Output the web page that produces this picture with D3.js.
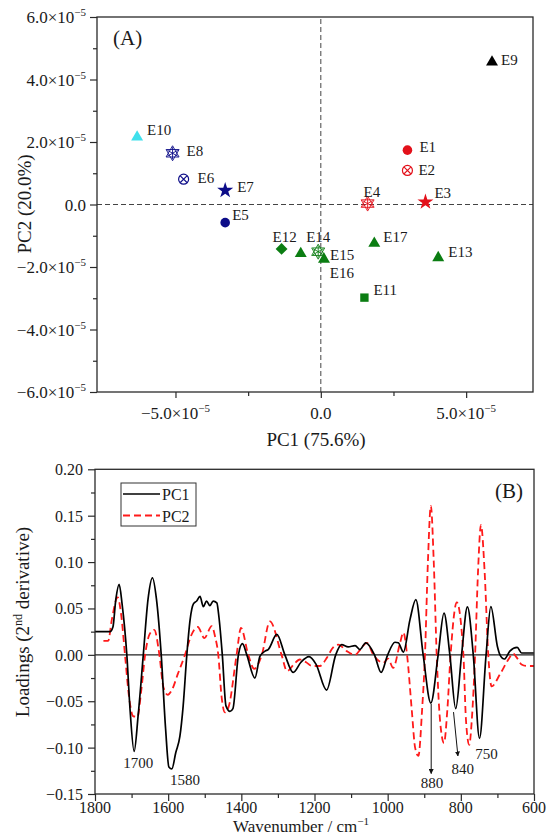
<!DOCTYPE html>
<html><head><meta charset="utf-8">
<script src="https://cdn.jsdelivr.net/npm/d3@7"></script>
<style>
body{margin:0;background:#fff}
svg text{font-family:"Liberation Serif","Times New Roman",serif;fill:#1a1a1a}
</style>
</head><body>
<svg id="c" width="550" height="838"></svg>
<script>
// ---------------- DATA ----------------
// Panel A: PCA scores
const sampleNames = ["E1","E2","E3","E4","E5","E6","E7","E8","E9","E10","E11","E12","E13","E14","E15","E16","E17"];
const pc1Scores = [2.98e-5,2.98e-5,3.60e-5,1.61e-5,-3.29e-5,-4.72e-5,-3.29e-5,-5.10e-5,5.89e-5,-6.32e-5,1.50e-5,-1.35e-5,4.04e-5,-0.09e-5,0.11e-5,-0.69e-5,1.84e-5];
const pc2Scores = [1.74e-5,1.09e-5,0.08e-5,0.03e-5,-0.58e-5,0.81e-5,0.45e-5,1.64e-5,4.59e-5,2.19e-5,-2.98e-5,-1.42e-5,-1.67e-5,-1.51e-5,-1.72e-5,-1.54e-5,-1.21e-5];
const sampleGroups = ["red","red","red","red","navy","navy","navy","navy","black","cyan","green","green","green","green","green","green","green"];
const sampleShapes = ["circle","circlex","star","hexagram","circle","circlex","star","hexagram","triangle","triangle","square","diamond","triangle","hexagram","triangle","triangle","triangle"];
const xTicksA = [-5e-5, 0, 5e-5];
const xMinorTicksA = [-2.5e-5, 2.5e-5];
const yTicksA = [-6e-5,-4e-5,-2e-5,0,2e-5,4e-5,6e-5];
const yMinorTicksA = [-5e-5,-3e-5,-1e-5,1e-5,3e-5,5e-5];

// Panel B: loadings (wavenumber, loading)
const pc1Loadings = [[1800,0.025],[1759,0.025],[1751,0.030],[1743,0.060],[1734,0.076],[1726,0.055],[1713,0.0],[1704,-0.060],[1693,-0.104],[1682,-0.065],[1668,0.0],[1655,0.060],[1643,0.083],[1632,0.060],[1619,0.0],[1607,-0.080],[1598,-0.121],[1590,-0.123],[1579,-0.105],[1568,-0.088],[1559,-0.055],[1549,0.0],[1540,0.038],[1531,0.055],[1522,0.058],[1513,0.063],[1504,0.052],[1495,0.058],[1486,0.053],[1477,0.058],[1467,0.056],[1461,0.040],[1452,0.0],[1442,-0.055],[1431,-0.061],[1423,-0.058],[1408,0.0],[1397,0.012],[1385,0.0],[1363,-0.025],[1349,-0.0015],[1335,0.004],[1326,0.006],[1303,0.022],[1281,0.0],[1258,-0.019],[1237,-0.008],[1215,-0.002],[1196,-0.010],[1167,-0.038],[1142,0.0],[1126,0.011],[1108,0.0086],[1089,0.010],[1076,0.0057],[1060,0.013],[1036,0.0],[1018,-0.019],[1000,0.0],[980,0.0136],[971,0.013],[957,0.003],[939,0.038],[923,0.0595],[903,0.0],[882,-0.052],[862,0.0],[846,0.045],[830,0.0],[814,-0.058],[798,0.0],[782,0.0516],[766,0.0],[749,-0.090],[731,0.0],[718,0.052],[700,0.009],[693,0.0],[681,-0.0045],[666,0.004],[646,0.008],[634,0.002],[620,0.002],[600,0.002]];
const pc2Loadings = [[1777,0.015],[1764,0.015],[1754,0.038],[1738,0.062],[1729,0.045],[1718,0.0],[1707,-0.045],[1696,-0.066],[1684,-0.067],[1674,-0.040],[1663,0.0],[1651,0.022],[1638,0.027],[1624,0.0],[1613,-0.035],[1601,-0.043],[1590,-0.038],[1573,-0.020],[1554,0.0],[1538,0.020],[1519,0.030],[1501,0.018],[1481,0.031],[1472,0.020],[1463,0.0],[1454,-0.045],[1445,-0.062],[1434,-0.055],[1413,0.0],[1401,0.029],[1381,0.0],[1365,-0.015],[1344,0.0],[1322,0.036],[1290,0.0],[1275,-0.0176],[1256,-0.010],[1240,-0.005],[1223,-0.008],[1207,-0.012],[1185,-0.012],[1166,-0.003],[1149,0.008],[1135,0.011],[1112,0.004],[1089,0.0],[1076,0.005],[1057,0.013],[1039,0.0],[1012,-0.0086],[999,-0.004],[985,-0.014],[966,0.013],[957,0.024],[947,0.0],[934,-0.060],[925,-0.100],[916,-0.109],[906,-0.060],[898,0.0],[890,0.100],[882,0.1605],[874,0.100],[866,0.0],[857,-0.070],[846,-0.095],[837,-0.060],[828,0.0],[811,0.0566],[793,0.0],[786,-0.070],[777,-0.097],[770,-0.070],[761,0.0],[753,0.090],[745,0.140],[735,0.090],[725,0.0],[716,-0.034],[693,-0.021],[670,-0.005],[657,0.0014],[647,-0.003],[634,-0.0104],[620,-0.012],[600,-0.012]];
const xTicksB = [1800,1600,1400,1200,1000,800,600];
const xMinorTicksB = [1700,1500,1300,1100,900,700];
const yTicksB = [-0.15,-0.10,-0.05,0,0.05,0.10,0.15,0.20];
const yMinorTicksB = [-0.125,-0.075,-0.025,0.025,0.075,0.125,0.175];
const seriesNames = ["PC1","PC2"];
// peak annotations: label, wavenumber, loading of label baseline
const peakLabels = [["1700",1682,-0.122],["1580",1554,-0.1405],["880",879,-0.144],["840",795,-0.128],["750",730,-0.1126]];
// arrows: [w1,v1,w2,v2]
const peakArrows = [[881,-0.053,881,-0.128],[820,-0.0617,808,-0.109]];

// ---------------- LAYOUT / STYLE ----------------
const colors = {red:"#e3101a",navy:"#0c0c88",black:"#000000",cyan:"#3fe0ec",green:"#0b7d12"};
const labelOffsets = [[12,2],[11,5],[9,-4],[-4,-7],[7,-3],[14,4],[12,2],[14,3],[9,4],[10,-1],[9,-3],[-9,-7],[10,0],[-12,-10],[6,2],[29,25],[9,0]];
const frameColor = "#2a2a2a";

const svg = d3.select("#c");

// ---------- Panel A ----------
const xA = d3.scaleLinear().domain([-7.7e-5, 7.3e-5]).range([97, 533]);
const yA = d3.scaleLinear().domain([-6e-5, 6e-5]).range([392, 17]);

function sciLabel(t, v){
  if (v === 0){ t.text("0.0"); return; }
  const m = v / 1e-5;
  t.append("tspan").text((m < 0 ? "\u2212" : "") + Math.abs(m).toFixed(1) + "\u00d710");
  t.append("tspan").attr("dy", -7).attr("font-size", 11).text("\u22125");
}

const gA = svg.append("g");
// dashed zero lines
gA.append("line").attr("x1", xA.range()[0]).attr("x2", xA.range()[1]).attr("y1", yA(0)).attr("y2", yA(0))
  .attr("stroke", "#444").attr("stroke-width", 1).attr("stroke-dasharray", "5,3");
gA.append("line").attr("x1", xA(0)).attr("x2", xA(0)).attr("y1", yA.range()[0]).attr("y2", yA.range()[1])
  .attr("stroke", "#444").attr("stroke-width", 1).attr("stroke-dasharray", "5,3");

function tickAxis(g, axis){
  g.call(axis).call(s => s.select(".domain").remove())
   .call(s => s.selectAll("line").attr("stroke", frameColor).attr("stroke-width", 1.2));
}
tickAxis(gA.append("g").attr("transform", `translate(0,${yA.range()[0]})`), d3.axisBottom(xA).tickValues(xTicksA).tickSize(6).tickFormat(""));
tickAxis(gA.append("g").attr("transform", `translate(0,${yA.range()[0]})`), d3.axisBottom(xA).tickValues(xMinorTicksA).tickSize(4).tickFormat(""));
tickAxis(gA.append("g").attr("transform", `translate(${xA.range()[0]},0)`), d3.axisLeft(yA).tickValues(yTicksA).tickSize(7).tickFormat(""));
tickAxis(gA.append("g").attr("transform", `translate(${xA.range()[0]},0)`), d3.axisLeft(yA).tickValues(yMinorTicksA).tickSize(4).tickFormat(""));

gA.selectAll("text.xl").data(xTicksA).join("text").attr("class","xl")
  .attr("x", d => xA(d)).attr("y", 419).attr("text-anchor","middle").attr("font-size",17)
  .each(function(d){ sciLabel(d3.select(this), d); });
gA.selectAll("text.yl").data(yTicksA).join("text").attr("class","yl")
  .attr("x", 86).attr("y", d => yA(d) + 6).attr("text-anchor","end").attr("font-size",17)
  .each(function(d){ sciLabel(d3.select(this), d); });

gA.append("rect").attr("x", xA.range()[0]).attr("y", yA.range()[1])
  .attr("width", xA.range()[1]-xA.range()[0]).attr("height", yA.range()[0]-yA.range()[1])
  .attr("fill","none").attr("stroke",frameColor).attr("stroke-width",1.3);

gA.append("text").attr("x",113).attr("y",45).attr("font-size",21).text("(A)");
gA.append("text").attr("x",316).attr("y",446).attr("text-anchor","middle").attr("font-size",19).text("PC1 (75.6%)");
gA.append("text").attr("transform","translate(31,204) rotate(-90)").attr("text-anchor","middle").attr("font-size",19).text("PC2 (20.0%)");

// markers
function hexagramPath(r){
  const p = [];
  const tri = a0 => [0,1,2].map(i => { const a = (a0 + i*120) * Math.PI/180; return [r*Math.cos(a), r*Math.sin(a)]; });
  const t1 = tri(-90), t2 = tri(90);
  p.push("M"+t1.map(q=>q.join(",")).join("L")+"Z");
  p.push("M"+t2.map(q=>q.join(",")).join("L")+"Z");
  for (let i=0;i<3;i++){ const a=(-90+i*60)*Math.PI/180; p.push(`M${r*0.8*Math.cos(a)},${r*0.8*Math.sin(a)}L${-r*0.8*Math.cos(a)},${-r*0.8*Math.sin(a)}`); }
  return p.join("");
}
const pts = gA.selectAll("g.pt").data(sampleNames.map((n,i)=>i)).join("g").attr("class","pt")
  .attr("transform", i => `translate(${xA(pc1Scores[i])},${yA(pc2Scores[i])})`);
pts.each(function(i){
  const g = d3.select(this), c = colors[sampleGroups[i]], s = sampleShapes[i];
  if (s === "circle") g.append("path").attr("d", d3.symbol(d3.symbolCircle, 72)()).attr("fill", c);
  else if (s === "triangle") g.append("path").attr("d", d3.symbol(d3.symbolTriangle, 62)()).attr("fill", c).attr("transform","translate(0,1)");
  else if (s === "star") g.append("path").attr("d", d3.symbol(d3.symbolStar, 80)()).attr("fill", c);
  else if (s === "square") g.append("path").attr("d", d3.symbol(d3.symbolSquare, 70)()).attr("fill", c);
  else if (s === "diamond") g.append("path").attr("d", d3.symbol(d3.symbolSquare, 70)()).attr("fill", c).attr("transform","rotate(45)");
  else if (s === "circlex"){
    g.append("circle").attr("r",5).attr("fill","none").attr("stroke",c).attr("stroke-width",1.2);
    g.append("path").attr("d","M-3.3,-3.3L3.3,3.3M-3.3,3.3L3.3,-3.3").attr("stroke",c).attr("stroke-width",1.1);
  } else if (s === "hexagram"){
    g.append("path").attr("d", hexagramPath(7.5)).attr("fill","none").attr("stroke",c).attr("stroke-width",0.9);
  }
});
gA.selectAll("text.lab").data(sampleNames.map((n,i)=>i)).join("text").attr("class","lab")
  .attr("x", i => xA(pc1Scores[i]) + labelOffsets[i][0])
  .attr("y", i => yA(pc2Scores[i]) + labelOffsets[i][1])
  .attr("font-size", 15).text(i => sampleNames[i]);

// ---------- Panel B ----------
const xB = d3.scaleLinear().domain([1800, 600]).range([95, 534]);
const yB = d3.scaleLinear().domain([-0.15, 0.20]).range([794, 469.3]);
const gB = svg.append("g");

gB.append("line").attr("x1", xB.range()[0]).attr("x2", xB.range()[1]).attr("y1", yB(0)).attr("y2", yB(0))
  .attr("stroke", "#222").attr("stroke-width", 1.1);

tickAxis(gB.append("g").attr("transform", `translate(0,${yB.range()[0]})`), d3.axisBottom(xB).tickValues(xTicksB).tickSize(7).tickFormat(""));
tickAxis(gB.append("g").attr("transform", `translate(0,${yB.range()[0]})`), d3.axisBottom(xB).tickValues(xMinorTicksB).tickSize(4).tickFormat(""));
tickAxis(gB.append("g").attr("transform", `translate(${xB.range()[0]},0)`), d3.axisLeft(yB).tickValues(yTicksB).tickSize(7).tickFormat(""));
tickAxis(gB.append("g").attr("transform", `translate(${xB.range()[0]},0)`), d3.axisLeft(yB).tickValues(yMinorTicksB).tickSize(4).tickFormat(""));

gB.selectAll("text.xl").data(xTicksB).join("text").attr("class","xl")
  .attr("x", d => xB(d)).attr("y", 813).attr("text-anchor","middle").attr("font-size",16).text(d => d);
gB.selectAll("text.yl").data(yTicksB).join("text").attr("class","yl")
  .attr("x", 83).attr("y", d => yB(d) + 6).attr("text-anchor","end").attr("font-size",16)
  .text(d => (d < 0 ? "\u2212" : "") + Math.abs(d).toFixed(2));

const lineGen = d3.line().x(d => xB(d[0])).y(d => yB(d[1])).curve(d3.curveMonotoneX);
gB.append("path").datum(pc2Loadings).attr("d", lineGen).attr("fill","none")
  .attr("stroke","#ff1a1a").attr("stroke-width",1.8).attr("stroke-dasharray","7,4");
gB.append("path").datum(pc1Loadings).attr("d", lineGen).attr("fill","none")
  .attr("stroke","#000").attr("stroke-width",1.7);

gB.append("rect").attr("x", xB.range()[0]).attr("y", yB.range()[1])
  .attr("width", xB.range()[1]-xB.range()[0]).attr("height", yB.range()[0]-yB.range()[1])
  .attr("fill","none").attr("stroke",frameColor).attr("stroke-width",1.3);

// legend
const lg = gB.append("g");
lg.append("rect").attr("x",121).attr("y",483).attr("width",75).attr("height",43).attr("fill","#fff").attr("stroke","#333").attr("stroke-width",1);
lg.append("line").attr("x1",123).attr("x2",160).attr("y1",494).attr("y2",494).attr("stroke","#000").attr("stroke-width",1.7);
lg.append("line").attr("x1",123).attr("x2",160).attr("y1",515.5).attr("y2",515.5).attr("stroke","#ff1a1a").attr("stroke-width",1.8).attr("stroke-dasharray","7,4");
lg.append("text").attr("x",162).attr("y",500).attr("font-size",16).text(seriesNames[0]);
lg.append("text").attr("x",162).attr("y",521.5).attr("font-size",16).text(seriesNames[1]);

gB.append("text").attr("x",495).attr("y",498).attr("font-size",21).text("(B)");

// annotations
svg.append("defs").append("marker").attr("id","ah").attr("viewBox","0 0 10 10").attr("refX",9).attr("refY",5)
  .attr("markerWidth",5).attr("markerHeight",5).attr("orient","auto")
  .append("path").attr("d","M0,0L10,5L0,10Z").attr("fill","#111");
gB.selectAll("line.arr").data(peakArrows).join("line").attr("class","arr")
  .attr("x1", d => xB(d[0])).attr("y1", d => yB(d[1])).attr("x2", d => xB(d[2])).attr("y2", d => yB(d[3]))
  .attr("stroke","#111").attr("stroke-width",1).attr("marker-end","url(#ah)");
gB.selectAll("text.pk").data(peakLabels).join("text").attr("class","pk")
  .attr("x", d => xB(d[1])).attr("y", d => yB(d[2])).attr("text-anchor","middle").attr("font-size",15).text(d => d[0]);

// axis titles
const yt = gB.append("text").attr("transform","translate(29,622) rotate(-90)").attr("text-anchor","middle").attr("font-size",19);
yt.append("tspan").text("Loadings (2");
yt.append("tspan").attr("dy",-7).attr("font-size",12).text("nd");
yt.append("tspan").attr("dy",7).text(" derivative)");
const xt = gB.append("text").attr("x",301).attr("y",832).attr("text-anchor","middle").attr("font-size",17);
xt.append("tspan").text("Wavenumber / cm");
xt.append("tspan").attr("dy",-7).attr("font-size",11).text("\u22121");
</script>
</body></html>
